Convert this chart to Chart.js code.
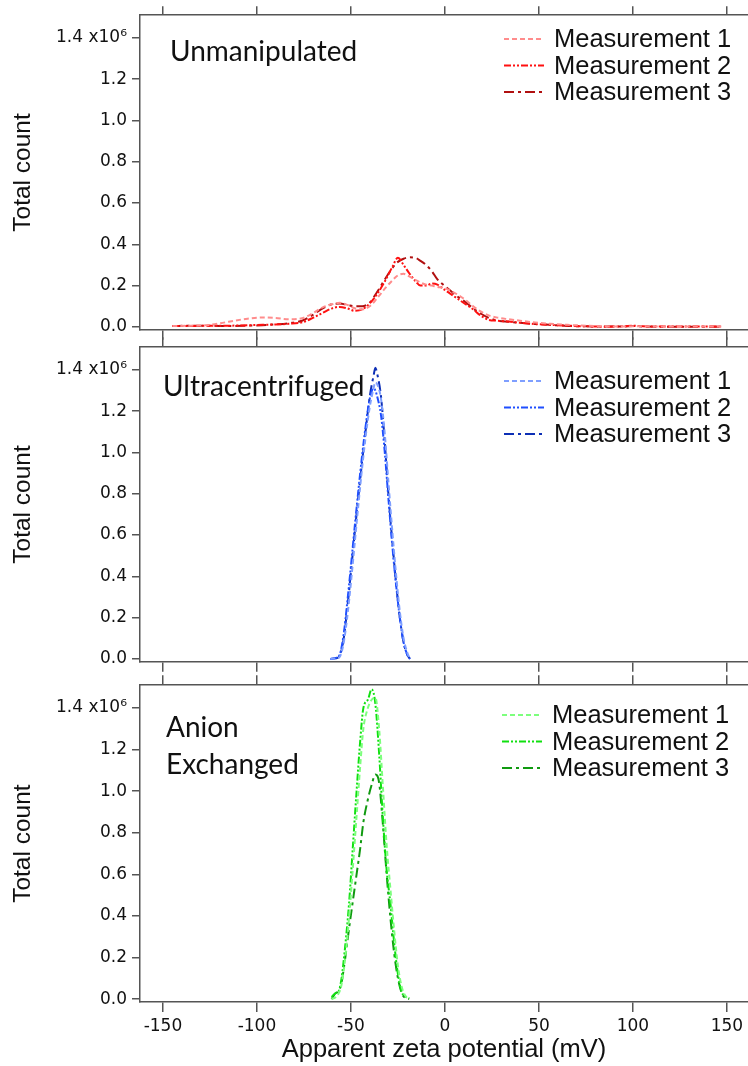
<!DOCTYPE html>
<html>
<head>
<meta charset="utf-8">
<script src="https://cdn.jsdelivr.net/npm/chart.js@4/dist/chart.umd.min.js"></script>
<style>
  body { margin: 0; background: #fff; }
  #wrap { position: relative; width: 748px; height: 1066px; overflow: hidden; }
  canvas { position: absolute; left: 0; }
</style>
</head>
<body>
<div id="wrap">
  <canvas id="p1" width="748" height="345" style="top:0px"></canvas>
  <canvas id="p2" width="748" height="345" style="top:332px"></canvas>
  <canvas id="p3" width="748" height="396" style="top:670px"></canvas>
</div>
<script>
// total count in units of 10^6, apparent zeta potential in mV
const seriesLabels = ['Measurement 1', 'Measurement 2', 'Measurement 3'];
const xTicks = [-150, -100, -50, 0, 50, 100, 150];
const yTicks = [0, 0.2, 0.4, 0.6, 0.8, 1.0, 1.2, 1.4];

const zetaUnman = [-145, -135, -125, -115, -105, -97, -90, -83, -76, -70, -65, -60, -56, -52, -48, -44, -40, -36, -32, -28,
  -25, -22, -19, -16, -13, -10, -7, -4, -1, 3, 7, 11, 15, 19, 23, 28, 34, 40, 48, 56, 65, 75, 85, 95, 100, 105, 115, 125, 135, 147];
const unmanM1 = [.004, .006, .01, .025, .04, .046, .043, .037, .042, .068, .095, .11, .117, .107, .09, .085, .1, .14, .185, .225,
  .25, .257, .245, .23, .215, .205, .2, .193, .19, .175, .155, .13, .1, .075, .057, .045, .037, .03, .021, .015, .01, .006, .003, .002, .003, .003, .002, .002, .002, .002];
const unmanM2 = [.005, .004, .006, .006, .008, .01, .012, .015, .022, .045, .068, .09, .097, .09, .078, .085, .114, .16, .22, .29,
  .335, .3, .26, .225, .2, .2, .21, .205, .185, .16, .135, .11, .085, .055, .035, .03, .026, .02, .014, .01, .006, .003, .001, .003, .006, .003, .002, .002, .002, .002];
const unmanM3 = [.004, .006, .006, .004, .006, .008, .012, .018, .03, .06, .09, .11, .113, .107, .1, .1, .118, .17, .23, .285,
  .315, .33, .337, .335, .32, .3, .27, .23, .205, .175, .145, .12, .09, .065, .045, .03, .025, .02, .014, .01, .005, .003, .002, .002, .004, .002, .001, .001, .001, .001];

const zetaUltra = [-61, -58, -56, -54, -52, -50, -48, -46, -44, -42, -40, -38, -37, -36, -34, -32, -30, -28, -26, -24, -22, -20, -18.6];
const ultraM1 = [0, .002, .01, .07, .2, .37, .56, .75, .93, 1.09, 1.22, 1.31, 1.34, 1.33, 1.26, 1.09, .85, .62, .41, .23, .1, .03, 0];
const ultraM2 = [0, .005, .02, .11, .27, .45, .64, .82, .99, 1.14, 1.26, 1.31, 1.3, 1.27, 1.18, 1.0, .77, .55, .36, .2, .08, .02, 0];
const ultraM3 = [0, .003, .015, .09, .24, .42, .61, .79, .96, 1.12, 1.27, 1.37, 1.41, 1.38, 1.27, 1.05, .79, .57, .37, .2, .08, .02, 0];

const zetaAnion = [-60.3, -58, -56.7, -55, -53, -51, -49, -47, -45, -43.4, -41, -39, -37, -35, -33, -31, -29, -27, -25, -23, -21, -19];
const anionM1 = [0, .01, .025, .07, .2, .39, .63, .88, 1.13, 1.3, 1.4, 1.44, 1.45, 1.3, 1.02, .74, .53, .33, .16, .06, .015, .003];
const anionM2 = [.01, .03, .035, .1, .26, .46, .73, 1.0, 1.25, 1.4, 1.44, 1.49, 1.42, 1.18, .87, .62, .46, .27, .12, .035, .012, .005];
const anionM3 = [0, .03, .035, .08, .2, .34, .47, .6, .73, .85, .96, 1.03, 1.08, 1.04, .84, .6, .39, .22, .1, .03, .005, 0];

const dashes = [[5, 3], [7, 2, 2, 2, 2, 2], [10, 4, 3, 4]];
const axisColor = '#555';
const tickFont = 'DejaVu Sans';

// draws the panel name and the legend inside the plot box
const panelText = {
  id: 'panelText',
  afterDraw(chart, args, opts) {
    const ctx = chart.ctx;
    ctx.save();
    ctx.fillStyle = '#111';
    ctx.textBaseline = 'middle';
    ctx.font = '28px Lato';
    opts.title.forEach((t, i) => ctx.fillText(t, opts.titleX, opts.titleY + i * 37));
    ctx.font = '25.5px "Liberation Sans"';
    chart.data.datasets.forEach((ds, i) => {
      const y = opts.legendY + i * 26.5;
      ctx.strokeStyle = ds.borderColor;
      ctx.lineWidth = 2;
      ctx.setLineDash(ds.borderDash);
      ctx.beginPath();
      ctx.moveTo(opts.legendX, y);
      ctx.lineTo(opts.legendX + 40, y);
      ctx.stroke();
      ctx.setLineDash([]);
      ctx.fillText(ds.label, opts.legendX + 50, y + 1);
    });
    ctx.restore();
  }
};

function makePanel(id, xs, series, colors, opts) {
  const datasets = series.map((vals, i) => ({
    label: seriesLabels[i],
    data: xs.map((x, j) => ({ x: x, y: vals[j] })),
    borderColor: colors[i],
    borderDash: dashes[i],
    borderWidth: 2,
    pointRadius: 0,
    fill: false,
    cubicInterpolationMode: 'monotone'
  }));

  const tickGrid = len => ({
    display: true,
    drawOnChartArea: false,
    drawTicks: true,
    tickLength: len,
    color: axisColor,
    lineWidth: 1.5
  });
  const border = { display: true, color: axisColor, width: 1.5 };

  return new Chart(document.getElementById(id).getContext('2d'), {
    type: 'line',
    data: { datasets: datasets },
    plugins: [panelText],
    options: {
      responsive: false,
      animation: false,
      layout: { padding: 0 },
      plugins: {
        legend: { display: false },
        tooltip: { enabled: false },
        panelText: opts.text
      },
      scales: {
        x: {
          type: 'linear',
          position: 'bottom',
          min: -162.2,
          max: 161.2,
          afterBuildTicks: s => { s.ticks = xTicks.map(v => ({ value: v })); },
          afterFit: s => { s.height = opts.bottomH; },
          grid: tickGrid(10),
          border: border,
          ticks: {
            display: opts.xLabels,
            padding: 4,
            color: '#111',
            font: { family: tickFont, size: 17 },
            callback: v => String(v)
          },
          title: {
            display: opts.xLabels,
            text: 'Apparent zeta potential (mV)',
            color: '#111',
            font: { family: 'Liberation Sans', size: 25.5 },
            padding: { top: 0, bottom: 1 }
          }
        },
        xTop: {
          type: 'linear',
          position: 'top',
          min: -162.2,
          max: 161.2,
          afterBuildTicks: s => { s.ticks = xTicks.map(v => ({ value: v })); },
          afterFit: s => { s.height = opts.topH; },
          grid: tickGrid(opts.topTick),
          border: border,
          ticks: { display: false }
        },
        y: {
          type: 'linear',
          min: -0.014,
          max: 1.51,
          afterBuildTicks: s => { s.ticks = yTicks.map(v => ({ value: v })); },
          afterFit: s => { s.width = 140; },
          grid: tickGrid(8),
          border: border,
          ticks: {
            padding: 5,
            color: '#111',
            font: { family: tickFont, size: 17 },
            callback: v => v === 1.4 ? '1.4 x10\u2076' : v.toFixed(1)
          },
          title: {
            display: true,
            text: 'Total count',
            color: '#111',
            font: { family: 'Liberation Sans', size: 24.5 },
            padding: { top: 9, bottom: 0 }
          }
        }
      }
    }
  });
}

makePanel('p1', zetaUnman, [unmanM1, unmanM2, unmanM3], ['#ff8c8c', '#ff1010', '#b01010'], {
  topH: 12, topTick: 9, bottomH: 15, xLabels: false,
  text: { title: ['Unmanipulated'], titleX: 170, titleY: 52, legendX: 504, legendY: 39 }
});

makePanel('p2', zetaUltra, [ultraM1, ultraM2, ultraM3], ['#7f9fff', '#1f4fff', '#0d2fb5'], {
  topH: 15, topTick: 10, bottomH: 12, xLabels: false,
  text: { title: ['Ultracentrifuged'], titleX: 163, titleY: 55, legendX: 504, legendY: 49 }
});

makePanel('p3', zetaAnion, [anionM1, anionM2, anionM3], ['#7dff7d', '#10e010', '#109a10'], {
  topH: 14, topTick: 10, bottomH: 64, xLabels: true,
  text: { title: ['Anion', 'Exchanged'], titleX: 166, titleY: 58, legendX: 502, legendY: 45 }
});
</script>
</body>
</html>
